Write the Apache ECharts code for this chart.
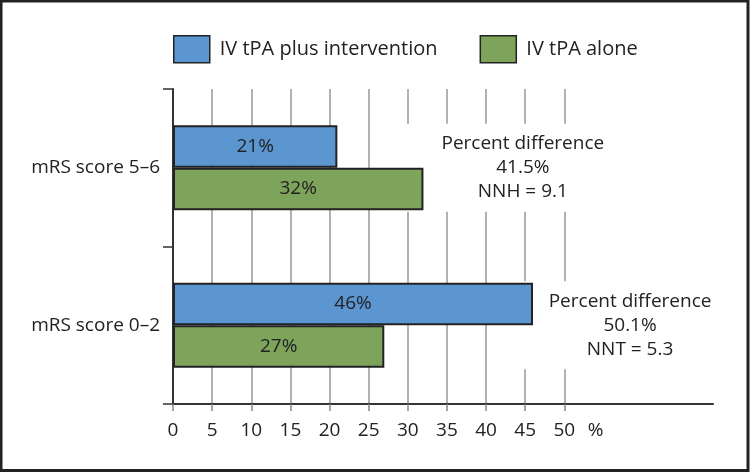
<!DOCTYPE html>
<html>
<head>
<meta charset="utf-8">
<script src="https://cdn.jsdelivr.net/npm/echarts@6/dist/echarts.min.js"></script>
<style>
  html, body { margin: 0; padding: 0; background: #fff; }
  #chart { width: 750px; height: 472px; }
</style>
</head>
<body>
<div id="chart"></div>
<script>
// data
const categories = ['mRS score 5–6', 'mRS score 0–2'];
const seriesNames = ['IV tPA plus intervention', 'IV tPA alone'];
const ivPlus = [21, 46];
const ivAlone = [32, 27];
const tickValues = [0, 5, 10, 15, 20, 25, 30, 35, 40, 45, 50];
const unitAt = 54; // where the '%' unit sits on the axis
const notes = [
    'Percent difference\n41.5%\nNNH = 9.1',
    'Percent difference\n50.1%\nNNT = 5.3'
];
const noteX = [44.7, 58.4];

const font = '"Open Sans", "Noto Sans", sans-serif';
const ink = '#222';

const chart = echarts.init(document.getElementById('chart'));

const barLabel = {
    show: true,
    position: 'inside',
    formatter: '{c}%',
    fontFamily: font,
    fontSize: 19,
    color: ink
};

const option = {
    animation: false,
    backgroundColor: '#fff',
    legend: {
        left: 173,
        top: 35,
        padding: 0,
        itemWidth: 36,
        itemHeight: 27,
        itemGap: 42,
        icon: 'rect',
        itemStyle: { borderColor: ink, borderWidth: 1.5 },
        textStyle: { fontFamily: font, fontSize: 20, color: ink, padding: [0, 0, 0, 5] },
        data: seriesNames
    },
    grid: { left: 173, right: 37, top: 89, bottom: 68, containLabel: false },
    xAxis: {
        type: 'value',
        min: 0,
        max: 69,
        interval: 5,
        axisLine: { show: true, lineStyle: { color: '#333', width: 2 } },
        axisTick: {
            show: true,
            length: 7,
            customValues: tickValues,
            lineStyle: { color: '#888', width: 1.5 }
        },
        axisLabel: {
            customValues: tickValues.concat([unitAt]),
            formatter: v => (v === unitAt ? '%' : String(v)),
            margin: 17,
            fontFamily: font,
            fontSize: 19,
            color: ink
        },
        splitLine: { show: true, lineStyle: { color: '#999', width: 1.5 } }
    },
    yAxis: {
        type: 'category',
        inverse: true,
        data: categories,
        axisLine: { show: true, lineStyle: { color: '#333', width: 2 } },
        axisTick: { show: true, length: 10, lineStyle: { color: '#333', width: 1.5 } },
        axisLabel: { margin: 13, fontFamily: font, fontSize: 19, color: ink }
    },
    series: [
        {
            name: seriesNames[0],
            type: 'bar',
            z: 3,
            data: ivPlus,
            barWidth: 42.5,
            barGap: 0,
            itemStyle: { color: '#5b96d1', borderColor: ink, borderWidth: 2 },
            label: barLabel
        },
        {
            name: seriesNames[1],
            type: 'bar',
            z: 3,
            data: ivAlone,
            barWidth: 42.5,
            barGap: 0,
            itemStyle: { color: '#7ea35b', borderColor: ink, borderWidth: 2 },
            label: barLabel
        },
        {
            // the two text notes, on white so they break the grid lines
            name: 'notes',
            type: 'scatter',
            z: 1,
            silent: true,
            symbolSize: 0,
            itemStyle: { opacity: 1 },
            data: notes.map((t, i) => ({ value: [noteX[i], categories[i]], note: t })),
            label: {
                show: true,
                position: 'inside',
                formatter: p => p.data.note,
                fontFamily: font,
                fontSize: 19,
                lineHeight: 24,
                color: ink,
                opacity: 1,
                align: 'center',
                verticalAlign: 'middle',
                backgroundColor: '#fff',
                padding: [8, 40, 8, 40]
            }
        }
    ],
    graphic: [{
        type: 'rect',
        silent: true,
        z: 100,
        shape: { x: 1, y: 1, width: 747, height: 469.5 },
        style: { fill: 'none', stroke: ink, lineWidth: 3 }
    }]
};

chart.setOption(option);
</script>
</body>
</html>
